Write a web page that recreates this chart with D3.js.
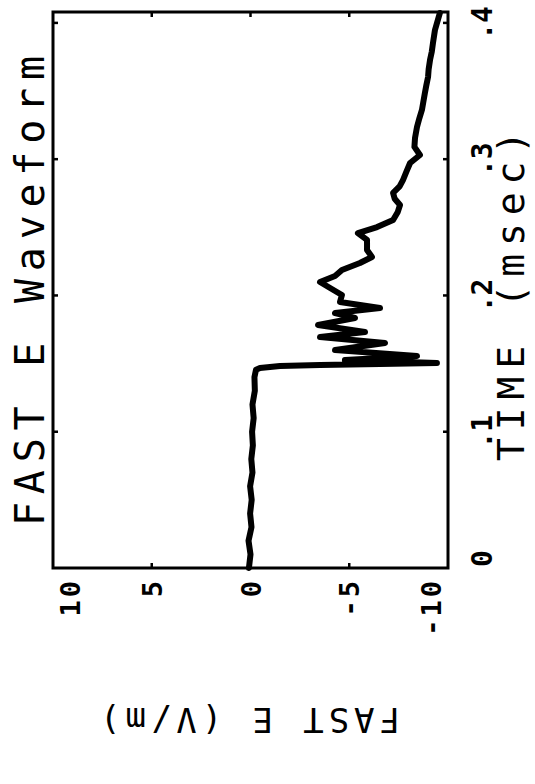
<!DOCTYPE html>
<html>
<head>
<meta charset="utf-8">
<script src="https://cdn.jsdelivr.net/npm/d3@7"></script>
<style>
  html, body { margin: 0; padding: 0; background: #fff; }
  svg { display: block; }
  text { font-family: "DejaVu Sans Mono", monospace; fill: #000; }
</style>
</head>
<body>
<svg id="chart" width="535" height="784"></svg>
<script>
// ---- data (time in msec, field in V/m) ----
const timeMs = [
  0.000, 0.010, 0.020, 0.030, 0.040, 0.050, 0.060, 0.070, 0.080, 0.090,
  0.100, 0.110, 0.120, 0.130, 0.140, 0.1455, 0.1468, 0.1482, 0.1490, 0.1497,
  0.1504, 0.1526, 0.1556, 0.1600, 0.1651, 0.1695, 0.1732, 0.1783, 0.1835, 0.1871,
  0.1908, 0.1952, 0.2003, 0.2055, 0.2099, 0.2143, 0.2187, 0.2238, 0.2282, 0.2334,
  0.2407, 0.2458, 0.2502, 0.2554, 0.2610, 0.2664, 0.2710, 0.2752, 0.2800, 0.2847,
  0.2910, 0.2972, 0.3031, 0.3090, 0.3156, 0.3236, 0.3300, 0.3361, 0.3420, 0.3486,
  0.3540, 0.3603, 0.3660, 0.3728, 0.3790, 0.3853, 0.3948, 0.4073
];
const fastE = [
   0.08,  0.00,  0.10, -0.05,  0.02, -0.06,  0.02, -0.10, -0.04, -0.12,
  -0.08, -0.16, -0.10, -0.22, -0.20, -0.28, -0.48, -1.49, -3.52, -6.56,
  -9.44, -4.78, -8.43, -4.28, -6.81, -3.52, -5.80, -3.42, -5.29, -4.28,
  -6.56, -4.53, -4.63, -4.03, -3.52, -4.28, -4.63, -5.54, -6.15, -5.90,
  -5.90, -5.44, -6.41, -7.22, -7.45, -7.57, -7.30, -7.22, -7.55, -7.72,
  -7.90, -8.08, -8.58, -8.30, -8.33, -8.43, -8.55, -8.68, -8.75, -8.83,
  -8.90, -8.99, -9.02, -9.09, -9.18, -9.24, -9.34, -9.59
];
const valueTicks = [10, 5, 0, -5, -10];
const valueTickLabels = ["10", "5", "0", "-5", "-10"];
const timeTicks = [0, 0.1, 0.2, 0.3, 0.4];
const timeTickLabels = ["0", ".1", ".2", ".3", ".4"];
const titleText = "FAST E Waveform";
const timeLabel = "TIME (msec)";
const valueLabel = "FAST E (V/m)";

// ---- chart (page is rotated 90° counter-clockwise) ----
const svg = d3.select("#chart");
const x = d3.scaleLinear().domain([10, -10]).range([53, 448]);   // field -> horizontal
const y = d3.scaleLinear().domain([0, 0.408]).range([568, 12]);  // time -> vertical

const data = timeMs.map((t, i) => ({ t, e: fastE[i] }));

// frame
svg.append("rect")
  .attr("x", x(10)).attr("y", y(0.408))
  .attr("width", x(-10) - x(10)).attr("height", y(0) - y(0.408))
  .attr("fill", "none").attr("stroke", "#000").attr("stroke-width", 3);

// ticks on bottom/top borders (field axis)
valueTicks.slice(1, -1).forEach(v => {
  svg.append("line").attr("x1", x(v)).attr("x2", x(v))
    .attr("y1", y(0) + 1).attr("y2", y(0) - 5).attr("stroke", "#000").attr("stroke-width", 2.5);
  svg.append("line").attr("x1", x(v)).attr("x2", x(v))
    .attr("y1", y(0.408) - 1).attr("y2", y(0.408) + 5).attr("stroke", "#000").attr("stroke-width", 2.5);
});
// ticks on left/right borders (time axis)
timeTicks.slice(1).forEach(t => {
  svg.append("line").attr("x1", x(10) - 1).attr("x2", x(10) + 5)
    .attr("y1", y(t)).attr("y2", y(t)).attr("stroke", "#000").attr("stroke-width", 2.5);
  svg.append("line").attr("x1", x(-10) + 1).attr("x2", x(-10) - 5)
    .attr("y1", y(t)).attr("y2", y(t)).attr("stroke", "#000").attr("stroke-width", 2.5);
});

// waveform
const line = d3.line().x(d => x(d.e)).y(d => y(d.t)).curve(d3.curveLinear);
svg.append("path").datum(data)
  .attr("d", line)
  .attr("fill", "none").attr("stroke", "#000")
  .attr("stroke-width", 6).attr("stroke-linejoin", "round").attr("stroke-linecap", "round");

// field tick labels (rotated, right-aligned against the axis)
const vNudge = { "10": 17, "-10": -17 };
valueTicks.forEach((v, i) => {
  const lbl = valueTickLabels[i];
  const cx = x(v) + (vNudge[lbl] || 0);
  svg.append("text")
    .attr("transform", `translate(${cx + 10},${y(0) + 10}) rotate(-90)`)
    .attr("text-anchor", "end")
    .attr("font-size", 27).attr("font-weight", "bold")
    .attr("letter-spacing", 3)
    .text(lbl);
});

// time tick labels
timeTicks.forEach((t, i) => {
  const lbl = timeTickLabels[i];
  let ty = y(t), anchor = "middle";
  if (t === 0) { ty = y(0) - 1; anchor = "start"; }
  svg.append("text")
    .attr("transform", `translate(492,${ty}) rotate(-90)`)
    .attr("text-anchor", anchor)
    .attr("font-size", 28).attr("font-weight", "bold")
    .text(lbl);
});

// title
svg.append("text")
  .attr("transform", `translate(44,291) rotate(-90)`)
  .attr("text-anchor", "middle")
  .attr("font-size", 40)
  .attr("textLength", 470).attr("lengthAdjust", "spacing")
  .text(titleText);

// time axis label
svg.append("text")
  .attr("transform", `translate(524,296) rotate(-90)`)
  .attr("text-anchor", "middle")
  .attr("font-size", 38)
  .attr("textLength", 330).attr("lengthAdjust", "spacing")
  .text(timeLabel);

// field axis label (upside down)
svg.append("text")
  .attr("transform", `translate(250,708) rotate(180)`)
  .attr("text-anchor", "middle")
  .attr("font-size", 34)
  .attr("textLength", 300).attr("lengthAdjust", "spacing")
  .text(valueLabel);
</script>
</body>
</html>
